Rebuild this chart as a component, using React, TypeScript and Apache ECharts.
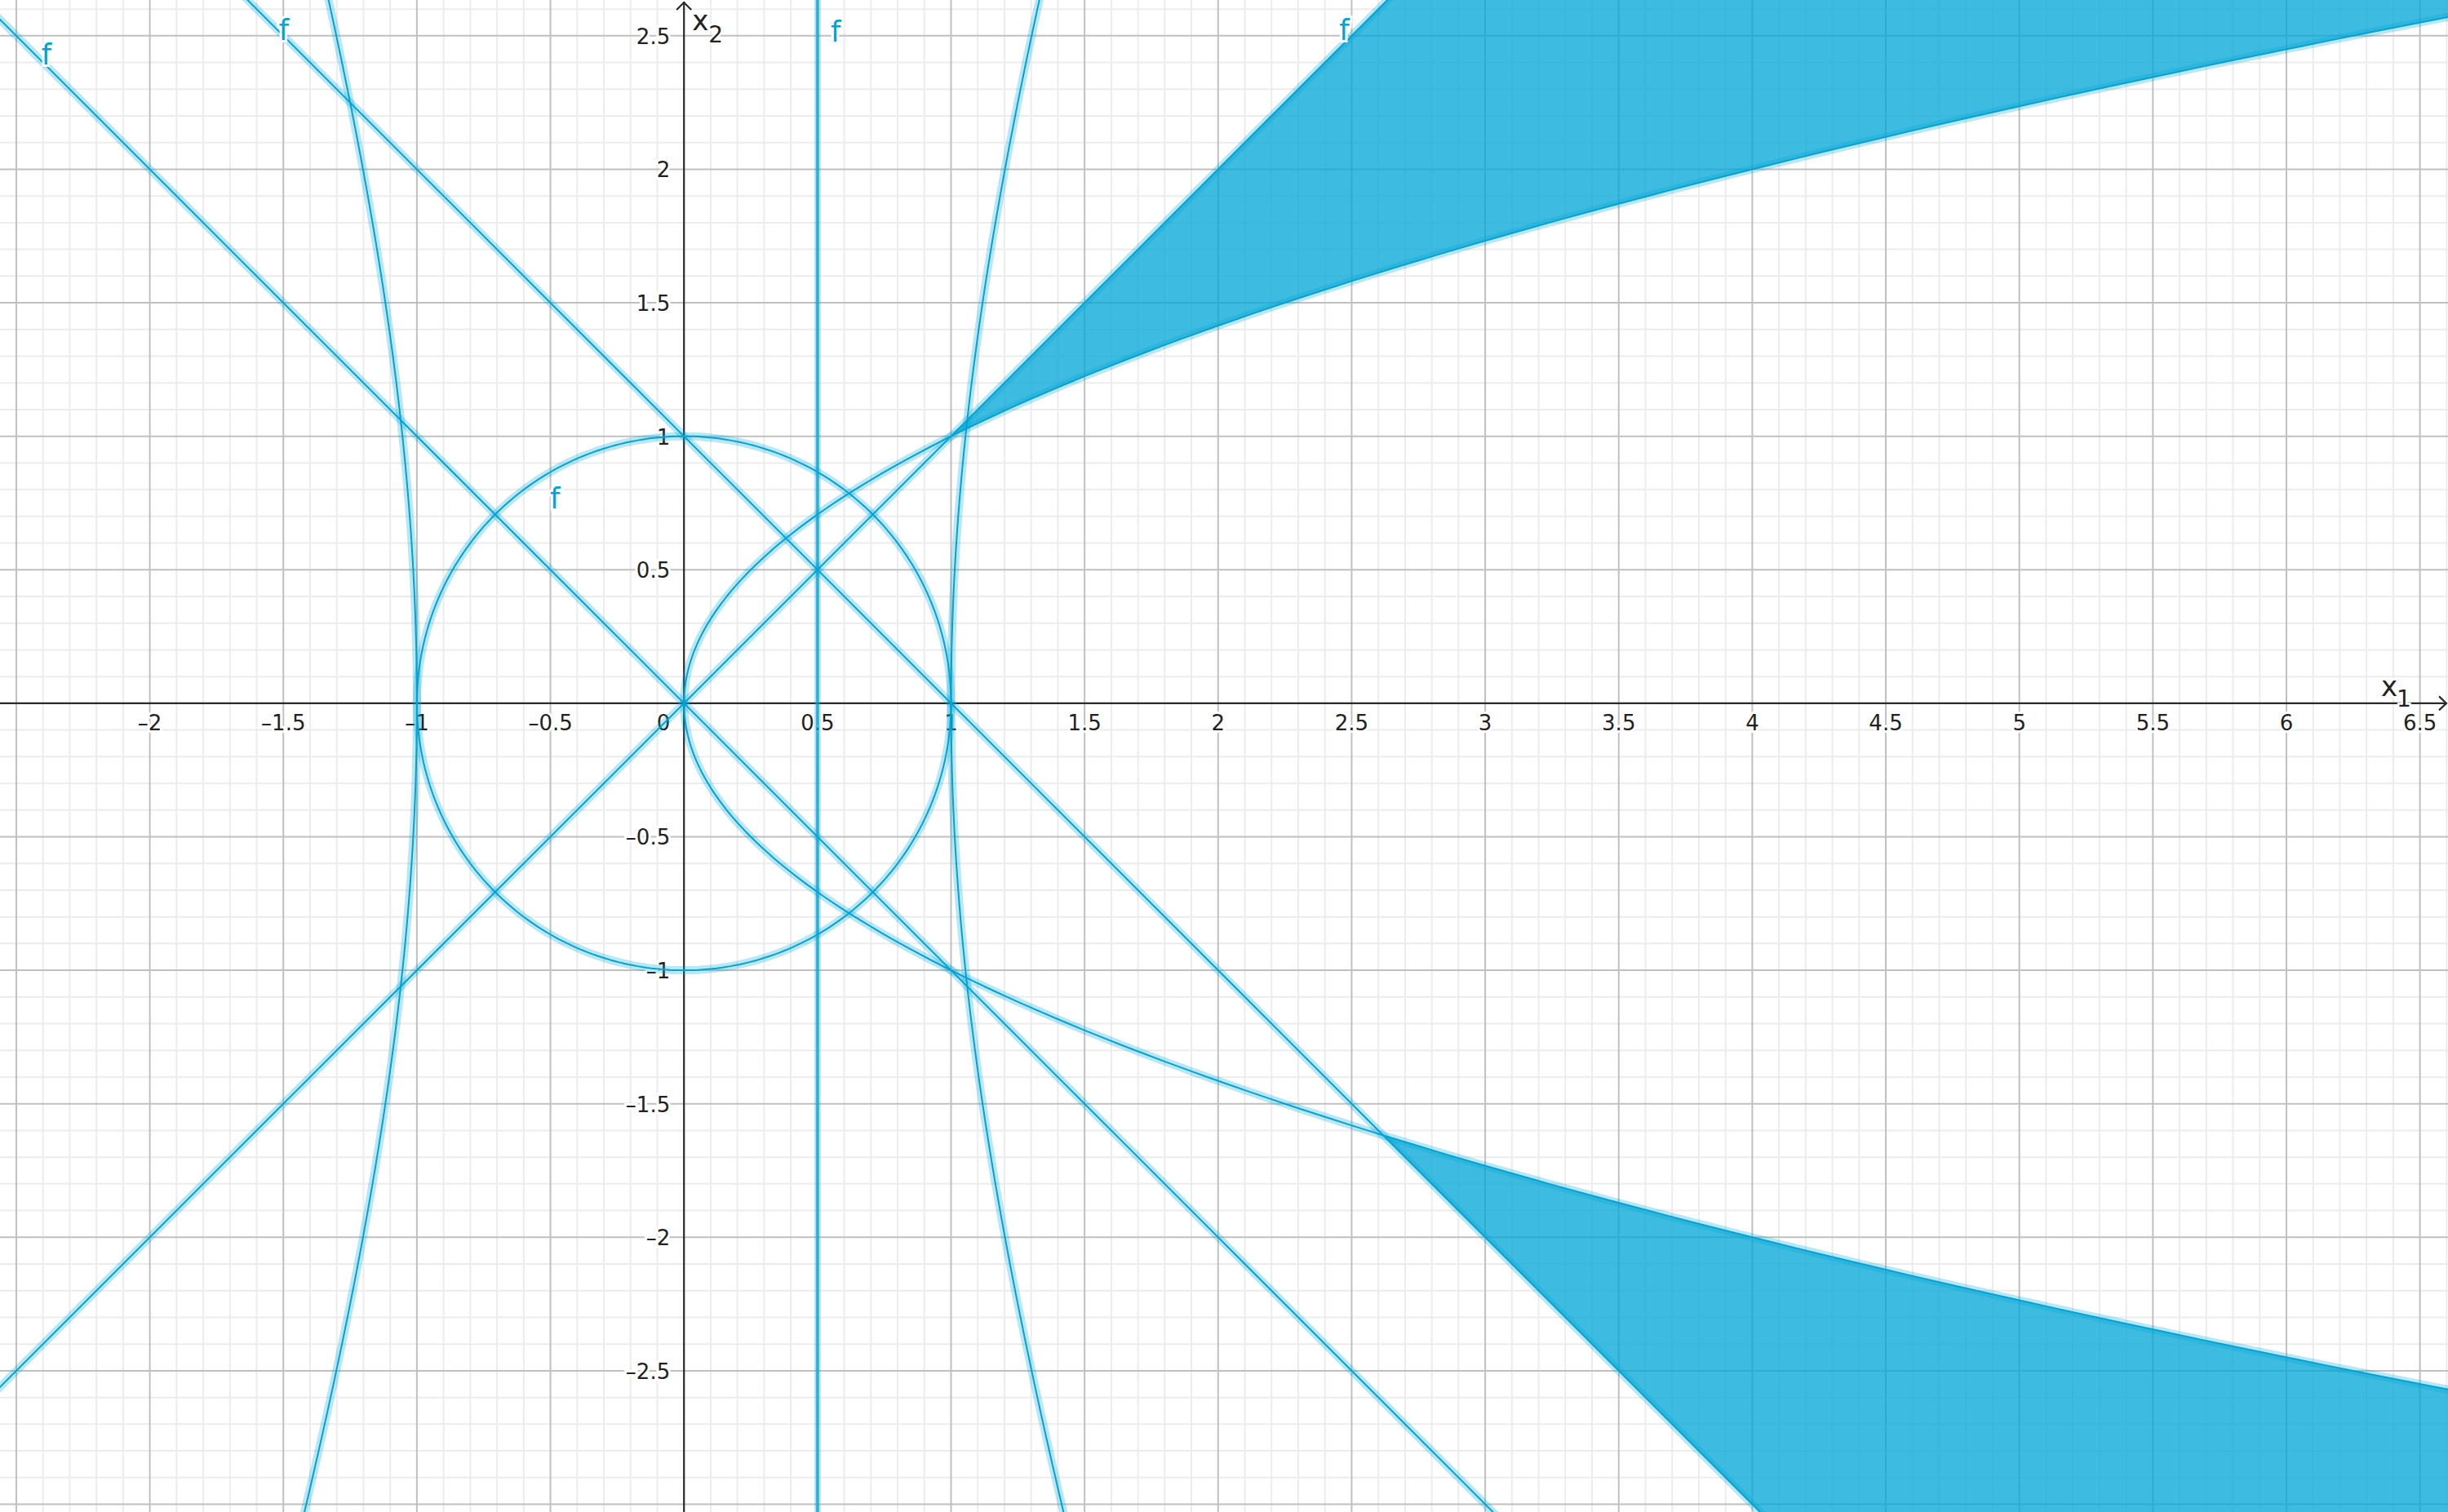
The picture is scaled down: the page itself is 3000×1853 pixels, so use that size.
import React, { useEffect, useRef } from "react";
import * as echarts from "echarts";

// ---- view window (data units) ----
const X_MIN = -2.561;
const X_MAX = 6.605;
const Y_MIN = -3.029;
const Y_MAX = 2.634;

// ---- ticks ----
const xTickValues = [-2, -1.5, -1, -0.5, 0, 0.5, 1, 1.5, 2, 2.5, 3, 3.5, 4, 4.5, 5, 5.5, 6, 6.5];
const xTickLabels = ["–2", "–1.5", "–1", "–0.5", "0", "0.5", "1", "1.5", "2", "2.5", "3", "3.5", "4", "4.5", "5", "5.5", "6", "6.5"];
const yTickValues = [2.5, 2, 1.5, 1, 0.5, -0.5, -1, -1.5, -2, -2.5];
const yTickLabels = ["2.5", "2", "1.5", "1", "0.5", "–0.5", "–1", "–1.5", "–2", "–2.5"];
const MAJOR_STEP = 0.5;
const MINOR_STEP = 0.1;

// ---- curve parameters ----
const circleRadius = [1]; // x^2 + y^2 = r^2
const parabolaA = [1]; // x = a * y^2
const hyperbolaB2 = [9]; // x^2 - y^2 / b2 = 1
const slopedLines = [
  [1, 0], // y = x
  [-1, 0], // y = -x
  [-1, 1], // y = 1 - x
]; // [slope, intercept]
const verticalLines = [0.5]; // x = 0.5
const upperRegionX = [1, 7]; // between y = x (top) and y = sqrt(x) (bottom)
const lowerRegionX = [2.618, 7]; // between y = -sqrt(x) (top) and y = 1 - x (bottom)
const fLabelPositions = [
  [-2.387, 2.429],
  [-1.498, 2.521],
  [0.568, 2.515],
  [2.472, 2.521],
  [-0.483, 0.767],
];

// ---- colours ----
const CORE = "#00a3d4";
const HALO = "rgba(0,166,214,0.27)";
const FILL = "rgba(0,166,214,0.76)";
const MAJOR_GRID = "#c0c0c0";
const MINOR_GRID = "#ececec";
const AXIS = "#2a2a2a";
const FONT = "DejaVu Sans";

function buildCurves() {
  const curves: { name: string; data: number[][]; width?: number; color?: string; halo?: number }[] = [];
  const r = circleRadius[0];
  const circ: number[][] = [];
  for (let d = 0; d <= 360; d += 1) {
    const t = (d * Math.PI) / 180;
    circ.push([r * Math.cos(t), r * Math.sin(t)]);
  }
  curves.push({ name: "circle", data: circ });
  const par: number[][] = [];
  for (let i = 0; i <= 320; i++) {
    const y = -3.3 + i * 0.02;
    par.push([parabolaA[0] * y * y, y]);
  }
  curves.push({ name: "parabola", data: par });
  const hr: number[][] = [];
  const hl: number[][] = [];
  for (let i = 0; i <= 140; i++) {
    const y = -3.3 + i * 0.05;
    const x = Math.sqrt(1 + (y * y) / hyperbolaB2[0]);
    hr.push([x, y]);
    hl.push([-x, y]);
  }
  curves.push({ name: "hyperbolaR", data: hr });
  curves.push({ name: "hyperbolaL", data: hl });
  slopedLines.forEach(([m, c], i) => {
    curves.push({ name: "line" + i, data: [[-5, m * -5 + c], [9, m * 9 + c]] });
  });
  verticalLines.forEach((vx, i) => {
    curves.push({ name: "vline" + i, data: [[vx, -5], [vx, 5]], width: 4, color: "rgba(0,166,214,0.66)", halo: 8 });
  });
  return curves;
}

function buildGrid() {
  const items: number[][] = [];
  const eps = 1e-6;
  const x0 = Math.ceil(X_MIN / MINOR_STEP);
  const x1 = Math.floor(X_MAX / MINOR_STEP);
  for (let k = x0; k <= x1; k++) {
    const v = Math.round(k * MINOR_STEP * 10) / 10;
    if (Math.abs(v) < eps) continue;
    const major = Math.abs(v / MAJOR_STEP - Math.round(v / MAJOR_STEP)) < eps ? 1 : 0;
    items.push([v, 0, 0, major]);
  }
  const y0 = Math.ceil(Y_MIN / MINOR_STEP);
  const y1 = Math.floor(Y_MAX / MINOR_STEP);
  for (let k = y0; k <= y1; k++) {
    const v = Math.round(k * MINOR_STEP * 10) / 10;
    if (Math.abs(v) < eps) continue;
    const major = Math.abs(v / MAJOR_STEP - Math.round(v / MAJOR_STEP)) < eps ? 1 : 0;
    items.push([0, v, 1, major]);
  }
  items.sort((a, b) => a[3] - b[3]);
  return items;
}

export default function App() {
  const ref = useRef<HTMLDivElement>(null);
  useEffect(() => {
    if (!ref.current) return;
    document.body.style.margin = "0";
    document.body.style.padding = "0";
    const chart = echarts.init(ref.current, undefined, { renderer: "svg", width: 3000, height: 1853 });
    const curves = buildCurves();
    const gridData = buildGrid();

    const series: any[] = [];

    series.push({
      type: "custom",
      name: "grid",
      coordinateSystem: "cartesian2d",
      silent: true,
      z: 0,
      data: gridData,
      renderItem: (_p: any, api: any) => {
        const orient = api.value(2);
        const major = api.value(3);
        const style = { stroke: major ? MAJOR_GRID : MINOR_GRID, lineWidth: 2 };
        if (orient === 0) {
          const x = api.value(0);
          const a = api.coord([x, Y_MIN]);
          const b = api.coord([x, Y_MAX]);
          return { type: "line", shape: { x1: a[0], y1: a[1] + 5, x2: b[0], y2: b[1] - 5 }, style };
        }
        const y = api.value(1);
        const a = api.coord([X_MIN, y]);
        const b = api.coord([X_MAX, y]);
        return { type: "line", shape: { x1: a[0] - 5, y1: a[1], x2: b[0] + 5, y2: b[1] }, style };
      },
    });

    series.push({
      type: "custom",
      name: "axes",
      coordinateSystem: "cartesian2d",
      silent: true,
      z: 1,
      data: [[0, 0]],
      renderItem: (_p: any, api: any) => {
        const o = api.coord([0, 0]);
        const left = api.coord([X_MIN, 0]);
        const right = api.coord([X_MAX, 0]);
        const top = api.coord([0, Y_MAX]);
        const bottom = api.coord([0, Y_MIN]);
        const axisStyle = { stroke: AXIS, lineWidth: 2.2, fill: null };
        const children: any[] = [];
        children.push({ type: "line", shape: { x1: left[0], y1: o[1], x2: right[0] - 2, y2: o[1] }, style: axisStyle });
        children.push({ type: "line", shape: { x1: o[0], y1: bottom[1], x2: o[0], y2: top[1] + 2 }, style: axisStyle });
        const ax = right[0] - 2;
        children.push({
          type: "polyline",
          shape: { points: [[ax - 9, o[1] - 8.5], [ax, o[1]], [ax - 9, o[1] + 8.5]] },
          style: axisStyle,
        });
        const ay = top[1] + 3;
        children.push({
          type: "polyline",
          shape: { points: [[o[0] - 9, ay + 9], [o[0], ay], [o[0] + 9, ay + 9]] },
          style: axisStyle,
        });
        const labelStyle = (text: string, align: string) => ({
          text,
          fill: "#222",
          fontSize: 26,
          fontFamily: FONT,
          align,
          verticalAlign: "middle",
          stroke: "#fff",
          lineWidth: 6,
        });
        xTickValues.forEach((v, i) => {
          const p = api.coord([v, 0]);
          if (v === 0) {
            children.push({ type: "text", x: p[0] - 17, y: p[1] + 24, style: labelStyle(xTickLabels[i], "right") });
          } else {
            children.push({ type: "text", x: p[0], y: p[1] + 24, style: labelStyle(xTickLabels[i], "center") });
          }
        });
        yTickValues.forEach((v, i) => {
          const p = api.coord([0, v]);
          children.push({ type: "text", x: p[0] - 17, y: p[1] + 1, style: labelStyle(yTickLabels[i], "right") });
        });
        const nameStyle = (text: string, size: number) => ({
          text,
          fill: "#222",
          fontSize: size,
          fontFamily: FONT,
          align: "center",
          verticalAlign: "middle",
          stroke: "#fff",
          lineWidth: 5,
        });
        children.push({ type: "text", x: right[0] - 72, y: o[1] - 21, style: nameStyle("x", 34) });
        children.push({ type: "text", x: right[0] - 54, y: o[1] - 5, style: nameStyle("1", 28) });
        children.push({ type: "text", x: o[0] + 20, y: top[1] + 25, style: nameStyle("x", 34) });
        children.push({ type: "text", x: o[0] + 39, y: top[1] + 42, style: nameStyle("2", 28) });
        return { type: "group", children };
      },
    });

    series.push({
      type: "custom",
      name: "regions",
      coordinateSystem: "cartesian2d",
      silent: true,
      z: 2,
      data: [[0, 0]],
      renderItem: (_p: any, api: any) => {
        const up: number[][] = [];
        const [ua, ub] = upperRegionX;
        up.push(api.coord([ua, ua]));
        up.push(api.coord([ub, ub]));
        for (let x = ub; x >= ua - 1e-9; x -= 0.02) up.push(api.coord([x, Math.sqrt(x)]));
        up.push(api.coord([ua, Math.sqrt(ua)]));
        const lo: number[][] = [];
        const [la, lb] = lowerRegionX;
        for (let x = la; x <= lb + 1e-9; x += 0.02) lo.push(api.coord([x, -Math.sqrt(x)]));
        lo.push(api.coord([lb, 1 - lb]));
        lo.push(api.coord([la, 1 - la]));
        return {
          type: "group",
          children: [
            { type: "polygon", shape: { points: up }, style: { fill: FILL } },
            { type: "polygon", shape: { points: lo }, style: { fill: FILL } },
          ],
        };
      },
    });

    curves.forEach((c) => {
      series.push({
        type: "line",
        name: c.name + "-halo",
        data: c.data,
        symbol: "none",
        silent: true,
        z: 3,
        lineStyle: { color: HALO, width: c.halo ?? 10, cap: "round" },
      });
    });
    curves.forEach((c) => {
      series.push({
        type: "line",
        name: c.name,
        data: c.data,
        symbol: "none",
        silent: true,
        z: 4,
        lineStyle: { color: c.color ?? CORE, width: c.width ?? 2 },
      });
    });

    series.push({
      type: "custom",
      name: "labels",
      coordinateSystem: "cartesian2d",
      silent: true,
      z: 5,
      data: fLabelPositions,
      renderItem: (_p: any, api: any) => {
        const p = api.coord([api.value(0), api.value(1)]);
        return {
          type: "text",
          x: p[0],
          y: p[1],
          style: {
            text: "f",
            fill: "#00a3d4",
            fontSize: 35,
            fontFamily: FONT,
            align: "center",
            verticalAlign: "middle",
            stroke: "#fff",
            lineWidth: 6,
          },
        };
      },
    });

    chart.setOption({
      animation: false,
      backgroundColor: "#ffffff",
      grid: { left: 0, right: 0, top: 0, bottom: 0, containLabel: false },
      xAxis: { type: "value", min: X_MIN, max: X_MAX, show: false, splitLine: { show: false } },
      yAxis: { type: "value", min: Y_MIN, max: Y_MAX, show: false, splitLine: { show: false } },
      tooltip: { show: false },
      series,
    });
    return () => chart.dispose();
  }, []);
  return (
    <div
      ref={ref}
      style={{ position: "fixed", left: 0, top: 0, width: 3000, height: 1853, background: "#fff" }}
    />
  );
}
